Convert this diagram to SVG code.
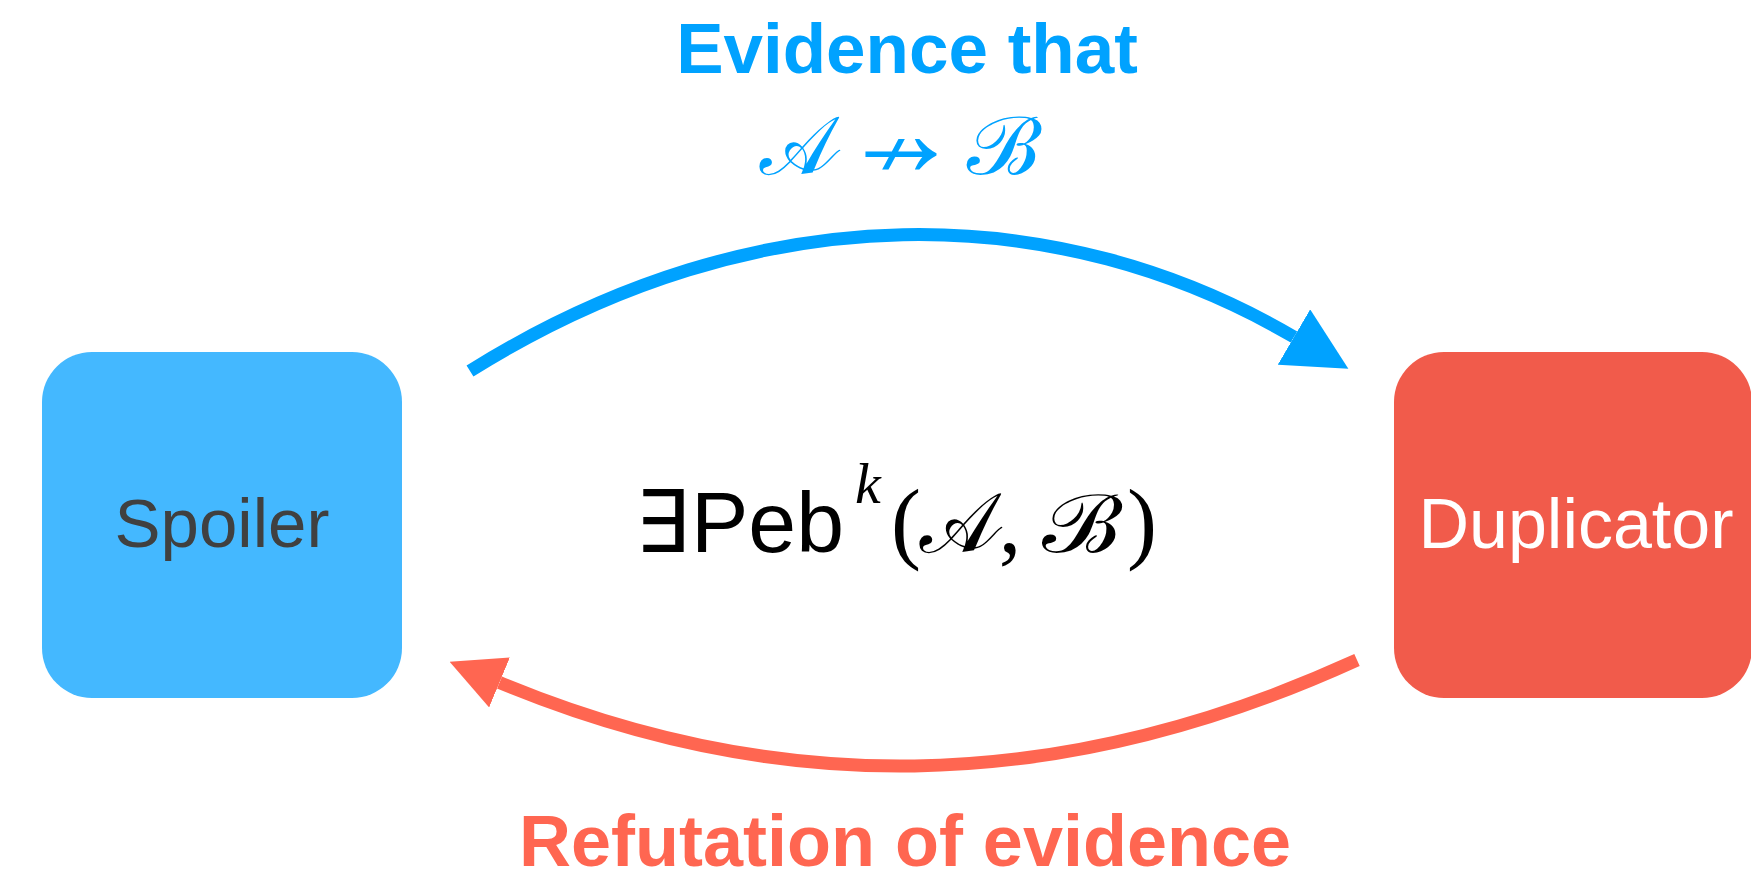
<svg xmlns="http://www.w3.org/2000/svg" width="1751" height="874" viewBox="0 0 1751 874">
<style>
.sans{font-family:"Liberation Sans",Arial,"DejaVu Sans",sans-serif}
.bold{font-weight:bold}
.serif{font-family:"Liberation Serif","DejaVu Serif",serif}
.script{font-family:"Noto Sans Math","STIX Two Math","Latin Modern Math","DejaVu Serif",serif}
.blue{fill:#00A2FF}
.red{fill:#FF6651}
</style>
<defs>
<marker id="headBlue" viewBox="0 -32 63 64" refX="0" refY="0" markerWidth="63" markerHeight="64" orient="auto" markerUnits="userSpaceOnUse"><path d="M0,-32 L63,0 L0,32 z" fill="#00A2FF"/></marker>
<marker id="headRed" viewBox="0 -27 54 54" refX="0" refY="0" markerWidth="54" markerHeight="54" orient="auto" markerUnits="userSpaceOnUse"><path d="M0,-27 L54,0 L0,27 z" fill="#FF6651"/></marker>
</defs>
<rect width="1751" height="874" fill="#ffffff"/>
<g id="spoiler">
<rect x="42" y="352" width="360" height="346" rx="50" ry="50" fill="#44B8FF"/>
<text class="sans" x="222" y="547" font-size="69" text-anchor="middle" fill="#404040">Spoiler</text>
</g>
<g id="duplicator">
<rect x="1394" y="352" width="358" height="346" rx="50" ry="50" fill="#F15B4B"/>
<text class="sans" x="1576" y="548" font-size="70" text-anchor="middle" fill="#ffffff">Duplicator</text>
</g>
<g id="connectors">
<path d="M470,371 C760,190 1060,200 1294,337" fill="none" stroke="#00A2FF" stroke-width="13" marker-end="url(#headBlue)"/>
<path d="M1357,660 C1050,800 770,795 499.5,682.5" fill="none" stroke="#FF6651" stroke-width="13" marker-end="url(#headRed)"/>
</g>
<g id="label-top">
<text class="sans bold blue" x="907" y="73" font-size="71" text-anchor="middle">Evidence that</text>
<text class="script blue" x="800" y="174" font-size="78" text-anchor="middle">𝒜</text>
<text class="script blue" x="901" y="176" font-size="78" text-anchor="middle">↛</text>
<text class="script blue" transform="translate(1005,174) scale(1.12,1)" x="0" y="0" font-size="80" text-anchor="middle">ℬ</text>
</g>
<g id="formula">
<text x="662" y="552" font-size="86" text-anchor="middle" font-family="DejaVu Sans, sans-serif">∃</text>
<text class="sans" x="691" y="552" font-size="86">Peb</text>
<text class="serif" x="855" y="503" font-size="58" font-style="italic">k</text>
<text class="serif" x="891" y="552" font-size="90">(</text>
<text class="script" x="961" y="552" font-size="80" text-anchor="middle">𝒜</text>
<text class="serif" x="1010" y="552" font-size="90" text-anchor="middle">,</text>
<text class="script" transform="translate(1083,552) scale(1.2,1)" x="0" y="0" font-size="80" text-anchor="middle">ℬ</text>
<text class="serif" x="1127" y="552" font-size="90">)</text>
</g>
<g id="label-bottom">
<text class="sans bold red" x="905" y="866" font-size="72" text-anchor="middle">Refutation of evidence</text>
</g>
</svg>
